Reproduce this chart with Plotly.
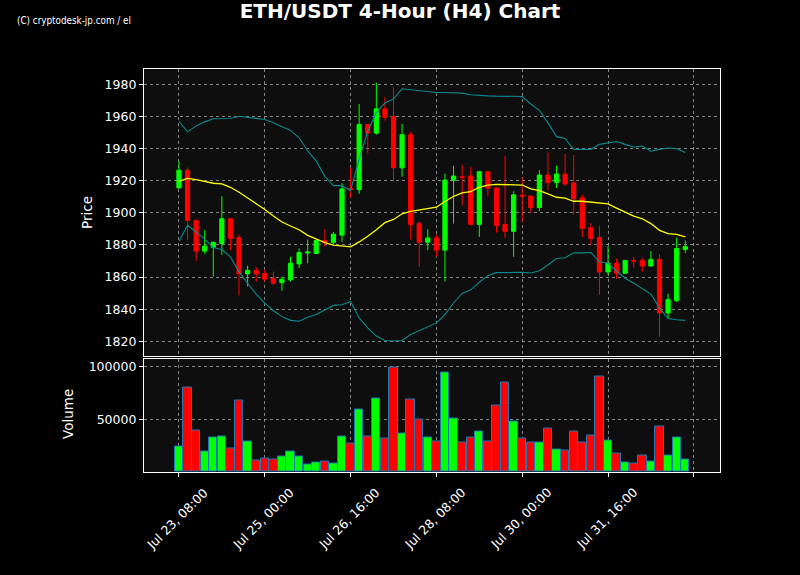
import pandas as pd
import plotly.graph_objects as go

# ---------------- data ----------------
dates = pd.date_range("2023-07-23 08:00", periods=60, freq="4h")

open_ = [1915.5, 1926.5, 1895.3, 1876.2, 1878.6, 1880.9, 1896.3, 1884.6, 1862.0, 1864.2,
         1862.2, 1859.3, 1856.6, 1858.3, 1868.2, 1875.0, 1874.7, 1882.8, 1881.5, 1886.1,
         1915.0, 1914.4, 1955.0, 1949.6, 1964.7, 1959.9, 1928.0, 1948.6, 1893.3, 1881.7,
         1884.4, 1876.8, 1920.2, 1922.5, 1922.9, 1892.8, 1925.6, 1915.5, 1892.8, 1888.5,
         1911.0, 1910.5, 1903.3, 1923.5, 1918.8, 1924.1, 1918.6, 1909.3, 1890.8, 1884.6,
         1863.2, 1868.6, 1862.4, 1870.4, 1870.4, 1866.9, 1871.0, 1837.7, 1845.4, 1877.2]
high = [1932.0, 1928.2, 1895.7, 1889.3, 1882.0, 1910.3, 1896.5, 1886.5, 1867.1, 1866.3,
        1864.9, 1863.4, 1860.3, 1872.7, 1877.8, 1883.4, 1883.0, 1889.8, 1888.1, 1918.4,
        1928.2, 1967.7, 1955.5, 1981.1, 1972.0, 1978.2, 1955.4, 1950.5, 1894.7, 1889.8,
        1886.5, 1924.5, 1929.3, 1929.9, 1928.6, 1925.8, 1926.0, 1915.6, 1935.4, 1913.4,
        1922.1, 1910.6, 1926.6, 1937.5, 1929.3, 1936.9, 1936.0, 1911.4, 1893.7, 1892.0,
        1879.3, 1871.6, 1870.6, 1872.7, 1871.6, 1876.2, 1874.1, 1849.7, 1884.6, 1882.8]
low = [1915.3, 1883.0, 1870.0, 1874.5, 1860.3, 1873.7, 1876.8, 1848.6, 1854.2, 1857.2,
       1857.2, 1855.2, 1851.5, 1857.2, 1865.5, 1868.6, 1874.5, 1878.9, 1880.5, 1881.9,
       1909.3, 1911.8, 1936.9, 1948.6, 1957.4, 1919.6, 1922.5, 1883.4, 1866.5, 1876.8,
       1872.7, 1857.2, 1893.3, 1904.6, 1892.2, 1885.0, 1910.7, 1887.7, 1884.4, 1872.7,
       1894.3, 1900.0, 1901.1, 1914.2, 1915.5, 1916.5, 1899.0, 1885.0, 1879.9, 1849.0,
       1861.3, 1858.9, 1862.2, 1865.9, 1863.4, 1866.7, 1822.9, 1834.2, 1844.4, 1875.0]
close = [1926.5, 1895.3, 1876.2, 1879.3, 1881.7, 1896.3, 1884.0, 1862.0, 1864.2, 1862.0,
         1858.7, 1856.2, 1858.7, 1868.6, 1875.3, 1875.6, 1882.8, 1881.5, 1886.7, 1914.9,
         1914.5, 1955.0, 1949.6, 1964.7, 1959.5, 1928.0, 1948.6, 1892.8, 1881.7, 1884.4,
         1876.8, 1920.4, 1922.9, 1922.0, 1892.8, 1925.6, 1915.3, 1892.2, 1888.5, 1911.2,
         1910.5, 1903.3, 1923.5, 1918.8, 1924.1, 1917.9, 1908.7, 1890.4, 1884.0, 1863.2,
         1868.6, 1862.4, 1870.4, 1870.0, 1866.9, 1871.0, 1837.7, 1846.0, 1877.8, 1879.0]

bb_upper = [1957.0, 1950.4, 1954.0, 1956.6, 1958.5, 1958.5, 1958.7, 1960.1, 1959.5, 1958.7,
            1958.1, 1956.0, 1953.5, 1951.3, 1946.7, 1938.5, 1932.3, 1922.7, 1916.9, 1916.9,
            1913.8, 1933.4, 1950.9, 1962.2, 1968.4, 1970.9, 1977.2, 1976.6, 1976.0, 1975.3,
            1974.9, 1974.9, 1974.9, 1974.5, 1973.5, 1973.0, 1972.8, 1972.6, 1972.6, 1972.4,
            1972.4, 1967.7, 1963.8, 1956.0, 1947.4, 1946.3, 1939.5, 1939.5, 1939.5, 1942.6,
            1943.6, 1944.4, 1942.6, 1941.0, 1941.6, 1938.3, 1939.5, 1940.3, 1939.9, 1937.5]
sma = [1919.6, 1921.4, 1920.6, 1919.4, 1918.4, 1918.0, 1915.9, 1912.8, 1909.3, 1905.6,
       1902.1, 1898.0, 1894.3, 1891.8, 1889.5, 1886.0, 1883.6, 1881.5, 1879.9, 1879.5,
       1878.8, 1881.9, 1885.4, 1889.5, 1893.9, 1895.9, 1899.4, 1900.9, 1901.7, 1902.5,
       1903.5, 1907.0, 1910.3, 1912.4, 1913.2, 1915.9, 1917.3, 1917.7, 1917.7, 1917.5,
       1917.3, 1914.9, 1913.8, 1911.8, 1909.7, 1909.1, 1907.2, 1907.2, 1906.6, 1905.8,
       1905.6, 1902.9, 1900.5, 1898.0, 1896.3, 1893.3, 1889.1, 1887.1, 1886.6, 1885.0]
bb_lower = [1882.3, 1892.2, 1888.1, 1883.6, 1878.4, 1877.2, 1872.5, 1863.4, 1856.2, 1849.4,
            1843.8, 1839.1, 1835.4, 1833.1, 1832.5, 1835.0, 1836.7, 1839.7, 1842.4, 1842.8,
            1844.9, 1834.6, 1828.4, 1823.3, 1820.6, 1820.2, 1820.6, 1824.3, 1826.7, 1828.8,
            1831.5, 1836.7, 1843.9, 1849.8, 1852.1, 1856.8, 1860.9, 1862.8, 1863.0, 1863.0,
            1863.0, 1862.6, 1864.0, 1867.5, 1871.6, 1872.0, 1875.1, 1875.1, 1875.3, 1869.5,
            1868.6, 1863.8, 1859.3, 1856.2, 1852.7, 1849.4, 1840.8, 1834.2, 1833.5, 1833.1]

volume = [23900, 79600, 39000, 19200, 32400, 33300, 22000, 67300, 28600, 10700,
          12600, 11600, 14500, 19200, 14500, 6900, 8800, 9700, 7900, 33300,
          27000, 58800, 33300, 69200, 31400, 99400, 36200, 68200, 49400, 32400,
          28600, 94700, 50300, 27700, 32400, 38100, 28600, 62600, 84300, 47500,
          31400, 27700, 27700, 40900, 21100, 20100, 38100, 27700, 34300, 90000,
          29600, 17300, 8800, 7900, 15400, 9700, 42800, 15400, 32400, 11600]

x_tick_vals = pd.date_range("2023-07-23 08:00", periods=7, freq="40h")
x_tick_labels = ["Jul 23, 08:00", "Jul 25, 00:00", "Jul 26, 16:00", "Jul 28, 08:00",
                 "Jul 30, 00:00", "Jul 31, 16:00", ""]
price_ticks = [1820, 1840, 1860, 1880, 1900, 1920, 1940, 1960, 1980]
volume_ticks = [50000, 100000]
volume_tick_labels = ["50000", "100000"]

# ---------------- styling ----------------
GREEN = "#00ff00"
RED = "#ff0000"
GRID = "rgba(170,170,170,0.75)"
FONT = "DejaVu Sans"

vol_colors = [GREEN if c >= o else RED for o, c in zip(open_, close)]

fig = go.Figure()
fig.add_trace(go.Candlestick(
    x=dates, open=open_, high=high, low=low, close=close,
    increasing=dict(line=dict(color=GREEN, width=1), fillcolor=GREEN),
    decreasing=dict(line=dict(color=RED, width=1), fillcolor=RED),
    whiskerwidth=0, showlegend=False, xaxis="x", yaxis="y", name="ETH/USDT"))
fig.add_trace(go.Scatter(x=dates, y=bb_upper, mode="lines",
                         line=dict(color="#0b8a8f", width=1.1), showlegend=False,
                         xaxis="x", yaxis="y"))
fig.add_trace(go.Scatter(x=dates, y=bb_lower, mode="lines",
                         line=dict(color="#0b8a8f", width=1.1), showlegend=False,
                         xaxis="x", yaxis="y"))
fig.add_trace(go.Scatter(x=dates, y=sma, mode="lines",
                         line=dict(color="#ffff00", width=1.3), showlegend=False,
                         xaxis="x", yaxis="y"))
fig.add_trace(go.Bar(x=dates, y=volume, marker=dict(color=vol_colors,
                     line=dict(color="#1f77b4", width=1)),
                     width=4 * 3600 * 1000 * 0.97, showlegend=False,
                     xaxis="x2", yaxis="y2"))

x_range = ["2023-07-22 15:42", "2023-08-02 20:12"]
axis_common = dict(showline=True, mirror=True, linecolor="white", linewidth=1.2,
                   gridcolor=GRID, griddash="dot", gridwidth=1, zeroline=False,
                   tickfont=dict(family=FONT, size=12.5, color="white"))

fig.update_layout(
    width=800, height=575,
    paper_bgcolor="black", plot_bgcolor="#0e0e0e",
    margin=dict(l=144, r=80, t=69, b=103),
    font=dict(family=FONT, color="white"),
    showlegend=False,
    bargap=0,
    title=dict(text="ETH/USDT 4-Hour (H4) Chart", x=0.5, xanchor="center",
               y=1 - 11 / 575, yanchor="middle",
               font=dict(family=FONT, size=20, color="white", weight="bold")),
    xaxis=dict(domain=[0, 1], anchor="y", type="date", range=x_range,
               tickvals=list(x_tick_vals), showticklabels=False, ticks="",
               rangeslider=dict(visible=False), **axis_common),
    yaxis=dict(domain=[0.2878, 1], anchor="x", range=[1810.9, 1989.5],
               tickvals=price_ticks, ticks="outside", ticklen=4, tickcolor="white",
               **axis_common),
    xaxis2=dict(domain=[0, 1], anchor="y2", type="date", matches="x", range=x_range,
                tickvals=list(x_tick_vals), showticklabels=False, ticks="outside",
                ticklen=4, tickcolor="white", **axis_common),
    yaxis2=dict(domain=[0, 0.2816], anchor="x2", range=[0, 107500],
                tickvals=volume_ticks, ticktext=volume_tick_labels, ticks="outside",
                ticklen=4, tickcolor="white", **axis_common),
)

annotations = [
    dict(text="(C) cryptodesk-jp.com / el", xref="paper", yref="paper",
         x=(15 - 144) / 576, y=(472 - 21) / 403, xanchor="left", yanchor="middle",
         showarrow=False,
         font=dict(family="Liberation Sans Narrow, DejaVu Sans Condensed, Liberation Sans",
                   size=9.8, color="white")),
    dict(text="Price", xref="paper", yref="paper", x=(87 - 144) / 576,
         y=(472 - 213) / 403, textangle=-90, showarrow=False,
         xanchor="center", yanchor="middle", font=dict(family=FONT, size=13.5, color="white")),
    dict(text="Volume", xref="paper", yref="paper", x=(68 - 144) / 576,
         y=(472 - 414) / 403, textangle=-90, showarrow=False,
         xanchor="center", yanchor="middle", font=dict(family=FONT, size=13.5, color="white")),
]
for tv, tl in zip(x_tick_vals, x_tick_labels):
    if tl:
        annotations.append(dict(text=tl, xref="x2", yref="paper", x=tv,
                                y=(472 - 518.5) / 403, textangle=-45, showarrow=False,
                                xanchor="center", yanchor="middle", xshift=-1.5,
                                font=dict(family=FONT, size=12.5, color="white")))
fig.update_layout(annotations=annotations)

fig.write_html("out.html", config={"displayModeBar": False},
               post_script="document.body.style.margin='0';document.body.style.background='black';")
